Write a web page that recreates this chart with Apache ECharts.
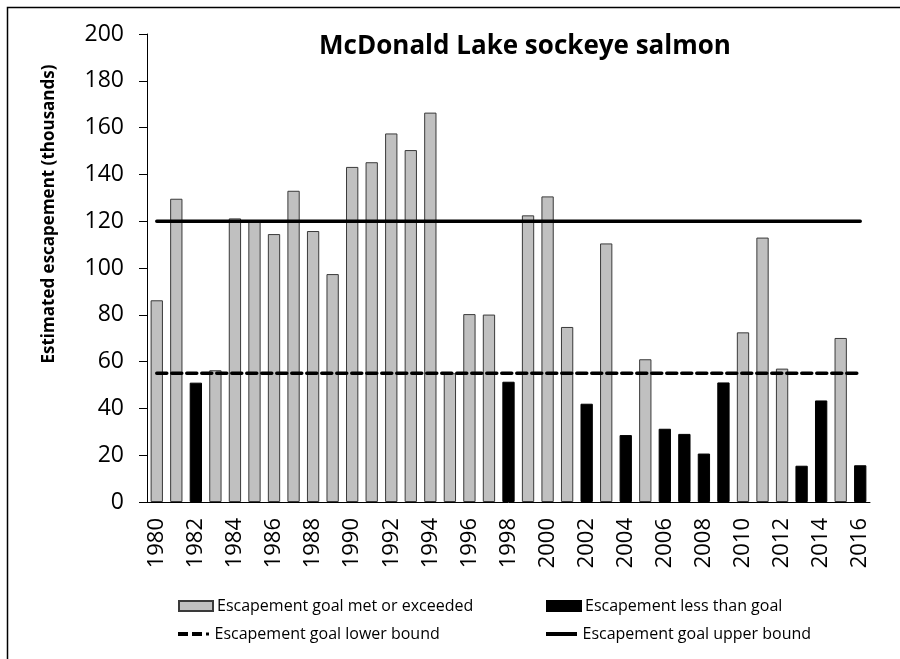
<!DOCTYPE html>
<html>
<head>
<meta charset="utf-8">
<script src="https://cdn.jsdelivr.net/npm/echarts@6/dist/echarts.min.js"></script>
<style>
  html, body { margin: 0; padding: 0; background: #fff; }
  #chart { width: 900px; height: 659px; }
</style>
</head>
<body>
<div id="chart"></div>
<script>
// years on the category axis
var years = [];
for (var y = 1980; y <= 2016; y++) years.push(String(y));

// escapement estimates (thousands)
var escapement = [
  86.2, 129.6, 51.0, 56.3, 121.2, 120.1, 114.5, 133.0, 115.8, 97.4,
  143.2, 145.2, 157.5, 150.4, 166.4, 55.0, 80.3, 80.1, 51.4, 122.5,
  130.6, 74.8, 42.0, 110.5, 28.6, 61.0, 31.3, 29.1, 20.7, 51.1,
  72.5, 113.0, 57.0, 15.5, 43.4, 70.1, 15.7
];
var lowerGoal = 55;
var upperGoal = 120;

var names = {
  met: 'Escapement goal met or exceeded',
  less: 'Escapement less than goal',
  lower: 'Escapement goal lower bound',
  upper: 'Escapement goal upper bound'
};

var metData = escapement.map(function (v) { return v >= lowerGoal - 0.5 ? v : '-'; });
var lessData = escapement.map(function (v) { return v < lowerGoal - 0.5 ? v : '-'; });
var lowerData = years.map(function () { return lowerGoal; });
var upperData = years.map(function () { return upperGoal; });

var font = 'Open Sans, sans-serif';
var chart = echarts.init(document.getElementById('chart'));

// legend icons for the two goal lines
var dashIcon = 'path://M0,0H10V4H0Z M14,0H24V4H14Z M28,0.5H31V3.5H28Z';
var lineIcon = 'path://M0,0H31V4H0Z';

function legendAt(name, icon, left, top, h) {
  return {
    data: [{ name: name, icon: icon }],
    left: left, top: top,
    itemWidth: 34, itemHeight: h, itemGap: 4,
    padding: 0,
    selectedMode: false,
    textStyle: { fontFamily: font, fontSize: 16, color: '#000', padding: [0, 0, 0, -1] }
  };
}

chart.setOption({
  animation: false,
  title: {
    text: 'McDonald Lake sockeye salmon',
    left: 520, top: 29,
    textAlign: 'center',
    textStyle: { fontFamily: font, fontSize: 26, fontWeight: 'bold', color: '#000' }
  },
  grid: { left: 147, right: 30, top: 34, bottom: 157 },
  legend: [
    legendAt(names.met, 'rect', 178, 598, 10),
    legendAt(names.less, 'rect', 546, 598, 10),
    legendAt(names.lower, dashIcon, 178, 626, 4),
    legendAt(names.upper, lineIcon, 546, 626, 4)
  ],
  graphic: [
    {
      type: 'rect', silent: true,
      shape: { x: 7.5, y: 7.5, width: 1000, height: 1000 },
      style: { fill: 'none', stroke: '#000', lineWidth: 1.5 }
    },
    {
      type: 'text', silent: true,
      x: 49, y: 214, rotation: Math.PI / 2,
      style: {
        text: 'Estimated escapement (thousands)',
        font: 'bold 17px Open Sans, sans-serif',
        fill: '#000', align: 'center', verticalAlign: 'middle'
      }
    }
  ],
  xAxis: {
    type: 'category',
    data: years,
    boundaryGap: true,
    axisLine: { lineStyle: { color: '#000', width: 1 } },
    axisTick: { interval: 0, length: 7, lineStyle: { color: '#000' } },
    axisLabel: {
      interval: 1, rotate: 90, margin: 16,
      fontFamily: font, fontSize: 22, color: '#000'
    }
  },
  yAxis: {
    type: 'value',
    min: 0, max: 200, interval: 20,
    splitLine: { show: false },
    axisLine: { show: true, lineStyle: { color: '#000', width: 1 } },
    axisTick: { show: true, length: 8, lineStyle: { color: '#000' } },
    axisLabel: { fontFamily: font, fontSize: 23, color: '#000', margin: 23 }
  },
  series: [
    {
      name: names.met, type: 'bar', stack: 'esc', data: metData,
      barWidth: '63%',
      itemStyle: { color: '#c0c0c0', borderColor: '#3a3a3a', borderWidth: 1 }
    },
    {
      name: names.less, type: 'bar', stack: 'esc', data: lessData,
      barWidth: '63%',
      itemStyle: { color: '#000', borderColor: '#000', borderWidth: 1 }
    },
    {
      name: names.lower, type: 'line', data: lowerData,
      symbol: 'none', z: 5,
      itemStyle: { color: '#000' },
      lineStyle: { color: '#000', width: 3.5, type: [10, 5], cap: 'round' }
    },
    {
      name: names.upper, type: 'line', data: upperData,
      symbol: 'none', z: 5,
      itemStyle: { color: '#000' },
      lineStyle: { color: '#000', width: 3.5, cap: 'round' }
    }
  ]
});
</script>
</body>
</html>
